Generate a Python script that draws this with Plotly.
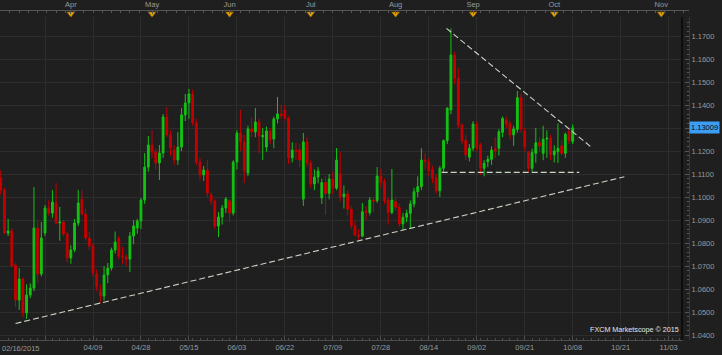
import pandas as pd
import plotly.graph_objects as go

# ---------------- data (EUR/USD daily) ----------------
start_date = "2015-03-05"
end_date = "2015-10-08"
opens = [1.1083,1.1030,1.0843,1.0852,1.0704,1.0552,1.0643,1.0496,1.0574,1.0604,
         1.0865,1.0665,1.0843,1.0952,1.0930,1.0974,1.0887,1.0891,1.0839,1.0735,
         1.0770,1.0887,1.0990,1.0926,1.0822,1.0787,1.0665,1.0591,1.0570,1.0661,
         1.0691,1.0770,1.0822,1.0743,1.0739,1.0730,1.0830,1.0865,1.0896,1.0987,
         1.1130,1.1226,1.1196,1.1148,1.1191,1.1348,1.1270,1.1204,1.1161,1.1217,
         1.1357,1.1409,1.1448,1.1322,1.1152,1.1096,1.1117,1.1009,1.0983,1.0874,
         1.0913,1.0952,1.0983,1.0930,1.1152,1.1278,1.1239,1.1104,1.1296,1.1283,
         1.1326,1.1262,1.1217,1.1287,1.1252,1.1339,1.1361,1.1378,1.1343,1.1170,
         1.1204,1.1204,1.0991,1.1239,1.1148,1.1057,1.1087,1.0996,1.1063,1.1016,
         1.1078,1.1038,1.1100,1.1001,1.1013,1.0947,1.0875,1.0835,1.0830,1.0940,
         1.0932,1.0987,1.0984,1.1091,1.1067,1.0987,1.0933,1.0980,1.0955,1.0883,
         1.0912,1.0929,1.0970,1.1023,1.1045,1.1161,1.1153,1.1120,1.1084,1.1027,
         1.1125,1.1245,1.1378,1.1617,1.1516,1.1313,1.1245,1.1173,1.1212,1.1317,
         1.1226,1.1125,1.1153,1.1164,1.1210,1.1212,1.1281,1.1335,1.1320,1.1270,
         1.1294,1.1432,1.1287,1.1193,1.1125,1.1190,1.1236,1.1190,1.1252,1.1255,
         1.1183,1.1197,1.1222,1.1190,1.1284,1.1241]
highs = [1.1117,1.1040,1.0905,1.0865,1.0712,1.0691,1.0650,1.0620,1.0625,1.1043,
         1.0900,1.0891,1.0965,1.0985,1.1030,1.1061,1.0957,1.0900,1.0850,1.0790,
         1.0905,1.1030,1.1030,1.0950,1.0850,1.0800,1.0685,1.0620,1.0700,1.0713,
         1.0780,1.0850,1.0830,1.0783,1.0750,1.0848,1.0900,1.0905,1.0996,1.1191,
         1.1265,1.1291,1.1210,1.1226,1.1361,1.1391,1.1290,1.1226,1.1283,1.1387,
         1.1448,1.1470,1.1467,1.1340,1.1170,1.1135,1.1161,1.1020,1.0990,1.0935,
         1.0965,1.1000,1.0990,1.1160,1.1290,1.1378,1.1270,1.1310,1.1345,1.1387,
         1.1340,1.1300,1.1306,1.1300,1.1349,1.1435,1.1400,1.1400,1.1350,1.1238,
         1.1235,1.1230,1.1278,1.1260,1.1160,1.1120,1.1130,1.1080,1.1090,1.1100,
         1.1110,1.1213,1.1197,1.1050,1.1030,1.0960,1.0895,1.0860,1.0974,1.0960,
         1.1000,1.1000,1.1130,1.1122,1.1080,1.0995,1.1122,1.1000,1.0970,1.0930,
         1.0945,1.0985,1.1040,1.1090,1.1212,1.1190,1.1170,1.1135,1.1100,1.1135,
         1.1250,1.1390,1.1733,1.1630,1.1560,1.1320,1.1270,1.1230,1.1330,1.1330,
         1.1235,1.1160,1.1180,1.1220,1.1260,1.1295,1.1350,1.1350,1.1330,1.1310,
         1.1461,1.1450,1.1300,1.1200,1.1210,1.1300,1.1260,1.1310,1.1290,1.1270,
         1.1225,1.1320,1.1250,1.1280,1.1300,1.1316]
lows = [1.1010,1.0840,1.0830,1.0695,1.0522,1.0509,1.0478,1.0470,1.0560,1.0590,
        1.0626,1.0655,1.0830,1.0920,1.0910,1.0880,1.0810,1.0830,1.0715,1.0710,
        1.0760,1.0874,1.0920,1.0810,1.0770,1.0655,1.0590,1.0539,1.0550,1.0626,
        1.0680,1.0755,1.0730,1.0710,1.0700,1.0674,1.0795,1.0840,1.0860,1.0970,
        1.1110,1.1170,1.1120,1.1074,1.1170,1.1260,1.1180,1.1140,1.1140,1.1200,
        1.1330,1.1340,1.1310,1.1140,1.1074,1.1070,1.1000,1.0965,1.0860,1.0826,
        1.0880,1.0930,1.0891,1.0920,1.1120,1.1200,1.1061,1.1090,1.1260,1.1260,
        1.1191,1.1161,1.1197,1.1230,1.1212,1.1320,1.1340,1.1330,1.1143,1.1150,
        1.1161,1.1130,1.0961,1.1130,1.1040,1.1030,1.1060,1.0970,1.0922,1.0990,
        1.1010,1.1030,1.0980,1.0950,1.0920,1.0860,1.0830,1.0810,1.0825,1.0900,
        1.0920,1.0935,1.0975,1.1040,1.0970,1.0880,1.0925,1.0940,1.0870,1.0857,
        1.0890,1.0865,1.0955,1.1000,1.1030,1.1120,1.1090,1.1060,1.1015,1.1000,
        1.1110,1.1230,1.1360,1.1490,1.1300,1.1230,1.1160,1.1155,1.1200,1.1200,
        1.1096,1.1090,1.1130,1.1140,1.1170,1.1180,1.1260,1.1300,1.1250,1.1222,
        1.1280,1.1280,1.1200,1.1110,1.1110,1.1150,1.1200,1.1160,1.1170,1.1160,
        1.1150,1.1148,1.1180,1.1170,1.1230,1.1230]
closes = [1.1030,1.0843,1.0852,1.0700,1.0552,1.0643,1.0496,1.0574,1.0604,1.0865,
          1.0665,1.0822,1.0952,1.0930,1.0978,1.0887,1.0891,1.0839,1.0735,1.0770,
          1.0887,1.0974,1.0926,1.0822,1.0787,1.0670,1.0609,1.0570,1.0661,1.0691,
          1.0770,1.0804,1.0743,1.0739,1.0730,1.0830,1.0874,1.0896,1.0987,1.1130,
          1.1226,1.1196,1.1148,1.1191,1.1348,1.1270,1.1213,1.1161,1.1217,1.1357,
          1.1409,1.1448,1.1322,1.1152,1.1096,1.1117,1.1017,1.0983,1.0874,1.0913,
          1.0952,1.0991,1.0930,1.1152,1.1278,1.1239,1.1113,1.1296,1.1283,1.1326,
          1.1265,1.1268,1.1287,1.1248,1.1339,1.1361,1.1352,1.1343,1.1170,1.1204,
          1.1200,1.1161,1.1239,1.1148,1.1057,1.1087,1.1113,1.1063,1.1016,1.1078,
          1.1040,1.1161,1.1001,1.1013,1.0947,1.0875,1.0835,1.0828,1.0936,1.0932,
          1.0987,1.0982,1.1091,1.1062,1.0984,1.0933,1.0987,1.0955,1.0883,1.0912,
          1.0929,1.0970,1.1023,1.1045,1.1161,1.1153,1.1114,1.1081,1.1027,1.1125,
          1.1245,1.1386,1.1617,1.1516,1.1313,1.1245,1.1183,1.1212,1.1317,1.1212,
          1.1125,1.1147,1.1164,1.1204,1.1200,1.1284,1.1342,1.1317,1.1270,1.1296,
          1.1432,1.1294,1.1219,1.1125,1.1193,1.1236,1.1222,1.1251,1.1256,1.1183,
          1.1200,1.1212,1.1190,1.1273,1.1245,1.13009]

first_label = "02/16/2015"
date_labels = ["03/23", "04/09", "04/28", "05/15", "06/03", "06/22", "07/09", "07/28",
               "08/14", "09/02", "09/21", "10/08", "10/21", "11/03"]
shown_labels = ["", "04/09", "04/28", "05/15", "06/03", "06/22", "07/09", "07/28",
                "08/14", "09/02", "09/21", "10/08", "10/21", "11/03"]
month_names = ["Apr", "May", "Jun", "Jul", "Aug", "Sep", "Oct", "Nov"]
month_starts = ["2015-04-01", "2015-05-01", "2015-06-01", "2015-07-01",
                "2015-08-01", "2015-09-01", "2015-10-01", "2015-11-01"]

# trend lines drawn on the chart (bar index, price)
support_x, support_y = [4, 169], [1.0450, 1.1088]
resist_x, resist_y = [120.8, 160.4], [1.1733, 1.1212]
flat_x, flat_y = [119.5, 156.8], [1.1107, 1.1107]
price_ticks = [1.04, 1.05, 1.06, 1.07, 1.08, 1.09, 1.10, 1.11, 1.12, 1.13,
               1.14, 1.15, 1.16, 1.17]
price_tick_text = ["1.0400", "1.0500", "1.0600", "1.0700", "1.0800", "1.0900",
                   "1.1000", "1.1100", "1.1200", "", "1.1400", "1.1500",
                   "1.1600", "1.1700"]
last_price = 1.13009
watermark = "FXCM Marketscope \u00a9 2015"

# ---------------- index helpers ----------------
dates = pd.bdate_range(start_date, end_date)
xi = list(range(len(dates)))
last_date = dates[-1]


def pos_of(d):
    d = pd.Timestamp(d)
    if d <= last_date:
        return int(dates.searchsorted(d))
    return len(dates) - 1 + (d - last_date).days


label_pos = [pos_of(pd.Timestamp("2015-" + s.replace("/", "-"))) for s in date_labels]
month_pos = [pos_of(d) for d in month_starts]

# ---------------- layout geometry ----------------
W, H = 722, 355
ML, MR, MT, MB = 0, 33, 0, 15
plot_w = W - ML - MR          # 689
plot_h = H - MT - MB          # 340
main_right_px = 681
px_per_bar = 3.69
x0 = -0.75 / px_per_bar
x_range_main = [x0, x0 + main_right_px / px_per_bar]
x_range_top = [x0, x0 + plot_w / px_per_bar]
main_top_px, strip_top_px = 17, 11
y_range = [1.037826, 1.178261]

BG = "#1f1f1f"
GRID = "#2d2d2d"
TXT = "#9a9a9a"
FONT = "Liberation Sans"
GREEN = "#13c313"
RED = "#c40000"
LINEC = "#c9d6c4"

fig = go.Figure()
fig.add_trace(go.Candlestick(
    x=xi, open=opens, high=highs, low=lows, close=closes,
    increasing=dict(line=dict(color=GREEN, width=1), fillcolor=GREEN),
    decreasing=dict(line=dict(color=RED, width=1), fillcolor=RED),
    whiskerwidth=0, hoverinfo="skip", showlegend=False,
))
for tx, ty in [(support_x, support_y), (resist_x, resist_y), (flat_x, flat_y)]:
    fig.add_trace(go.Scatter(x=tx, y=ty, mode="lines",
                             line=dict(color=LINEC, width=1.1, dash="6px,3px"),
                             hoverinfo="skip", showlegend=False))

# month markers on the top strip
fig.add_trace(go.Scatter(
    x=month_pos, y=[0.55] * len(month_pos), xaxis="x2", yaxis="y2",
    mode="markers", marker=dict(symbol="triangle-down", size=7, color="#e2a200",
                                line=dict(color="#7a5200", width=0.5)),
    cliponaxis=False, hoverinfo="skip", showlegend=False))

main_dom_top = (plot_h - main_top_px) / plot_h
strip_dom_top = (plot_h - strip_top_px) / plot_h

fig.update_layout(
    width=W, height=H,
    margin=dict(l=ML, r=MR, t=MT, b=MB, pad=0),
    paper_bgcolor=BG, plot_bgcolor=BG,
    font=dict(family=FONT, size=7.5, color=TXT),
    showlegend=False,
    xaxis=dict(domain=[0, main_right_px / plot_w], range=x_range_main,
               rangeslider=dict(visible=False), anchor="y",
               tickmode="array", tickvals=label_pos, ticktext=shown_labels,
               showgrid=True, gridcolor=GRID, gridwidth=1,
               showline=True, linecolor="#4d4d4d", linewidth=1,
               ticks="inside", ticklen=4, tickcolor="#4d4d4d",
               minor=dict(tickmode="linear", tick0=0, dtick=2, ticks="inside",
                          ticklen=2, tickcolor="#4d4d4d", showgrid=False),
               zeroline=False, tickfont=dict(size=7.5, color=TXT), fixedrange=True),
    xaxis2=dict(domain=[0, 1], range=x_range_top, anchor="y2", side="top",
                tickmode="array", tickvals=month_pos, ticktext=month_names,
                showgrid=False, showline=True, linecolor="#555555", linewidth=1,
                ticks="inside", ticklen=3, tickcolor="#555555",
                minor=dict(tickmode="linear", tick0=0, dtick=2.5, ticks="inside",
                           ticklen=2, tickcolor="#555555", showgrid=False),
                zeroline=False, tickfont=dict(size=7.5, color=TXT), fixedrange=True),
    yaxis=dict(domain=[0, main_dom_top], range=y_range, anchor="x", side="right",
               tickmode="array", tickvals=price_ticks, showticklabels=False,
               showgrid=True, gridcolor=GRID, gridwidth=1,
               showline=True, linecolor="#0d0d0d", linewidth=2,
               ticks="", zeroline=False, fixedrange=True),
    yaxis3=dict(overlaying="y", anchor="free", position=1, side="right",
                range=y_range, tickmode="array", tickvals=price_ticks,
                ticktext=price_tick_text,
                showgrid=False, showline=True, linecolor="#3a3a3a", linewidth=1,
                ticks="inside", ticklen=4, tickcolor="#555555",
                minor=dict(tickmode="linear", tick0=1.04, dtick=0.002, ticks="inside",
                           ticklen=2, tickcolor="#555555", showgrid=False),
                zeroline=False, tickfont=dict(size=7.5, color=TXT), fixedrange=True),
    yaxis2=dict(domain=[main_dom_top, strip_dom_top], range=[0, 1], anchor="x2",
                showgrid=False, showticklabels=False, showline=False,
                zeroline=False, fixedrange=True),
)

# hidden trace to activate yaxis3
fig.add_trace(go.Scatter(x=[xi[0]], y=[y_range[0]], yaxis="y3", mode="markers",
                         marker=dict(opacity=0), hoverinfo="skip", showlegend=False))

fig.add_annotation(text=first_label, xref="paper", yref="paper", x=0,
                   y=-8 / plot_h, xanchor="left", yanchor="middle", showarrow=False,
                   font=dict(size=7.5, color=TXT))
fig.add_annotation(text=watermark, xref="paper", yref="paper",
                   x=main_right_px / plot_w, y=11 / plot_h, xanchor="right",
                   yanchor="middle", showarrow=False,
                   font=dict(size=7.2, color="#e6e6e6"))
fig.add_annotation(text="%.5f" % last_price, xref="paper", yref="y",
                   x=1, y=last_price, xanchor="left", yanchor="middle",
                   showarrow=False, bgcolor="#3d9df5", borderpad=1,
                   font=dict(size=7.5, color="#0a0a0a"))

fig.write_html("out.html")
